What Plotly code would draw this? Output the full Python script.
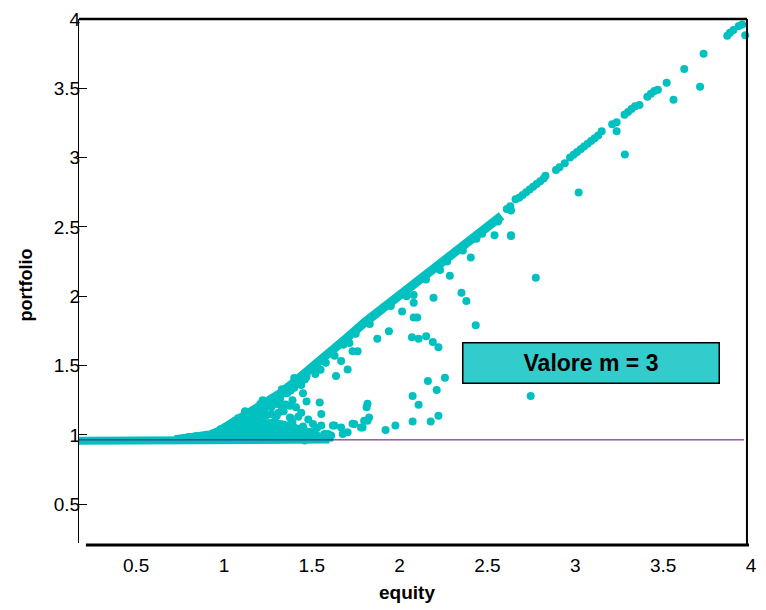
import plotly.graph_objects as go

# ---- data ----
floor_x = [0.155, 0.45, 0.75, 0.95, 1.20, 1.45, 1.60]
floor_y = [0.958, 0.958, 0.960, 0.962, 0.962, 0.964, 0.966]

env_x = [0.72, 0.80, 0.86, 0.92, 0.97, 1.03, 1.085, 1.13, 1.18, 1.24, 1.31, 1.40,
         1.50, 1.60, 1.70, 1.80, 1.90, 2.00, 2.10, 2.20, 2.30, 2.40, 2.50, 2.58]
env_y = [0.965, 0.975, 0.99, 1.00, 1.025, 1.07, 1.12, 1.15, 1.195, 1.24, 1.29, 1.38,
         1.48, 1.59, 1.70, 1.81, 1.91, 2.01, 2.11, 2.21, 2.31, 2.40, 2.50, 2.58]

# dense mass under the curve (outline)
mass_x = [0.88, 0.95, 1.02, 1.10, 1.18, 1.26, 1.34, 1.42, 1.50, 1.57, 1.62, 1.62, 0.88]
mass_y = [0.965, 0.995, 1.04, 1.08, 1.10, 1.11, 1.10, 1.07, 1.04, 1.00, 0.97, 0.955, 0.955]

diag_x = [2.61, 2.63, 2.66, 2.68, 2.70, 2.72, 2.74, 2.76, 2.78, 2.80, 2.82, 2.83,
          2.89, 2.91, 2.94, 2.97, 2.99, 3.01, 3.03, 3.05, 3.07, 3.09, 3.11, 3.13,
          3.15, 3.21, 3.235, 3.28, 3.30, 3.32, 3.34, 3.365, 3.41, 3.43, 3.45, 3.47,
          3.52, 3.62, 3.73, 3.865, 3.88, 3.90, 3.93, 3.95]
diag_y = [2.63, 2.65, 2.70, 2.71, 2.73, 2.75, 2.77, 2.79, 2.81, 2.83, 2.85, 2.87,
          2.91, 2.93, 2.96, 3.00, 3.02, 3.04, 3.06, 3.08, 3.10, 3.12, 3.14, 3.16,
          3.19, 3.24, 3.255, 3.31, 3.33, 3.35, 3.37, 3.38, 3.44, 3.46, 3.48, 3.49,
          3.54, 3.64, 3.75, 3.88, 3.90, 3.92, 3.95, 3.96]

near_x = [1.05, 1.10, 1.16, 1.21, 1.26, 1.31, 1.35, 1.38, 1.44, 1.47, 1.53, 1.58, 1.63,
          1.68, 1.75, 1.83, 1.95, 2.04, 2.15, 2.27, 2.36, 2.47, 2.56, 1.12, 1.22, 1.33,
          1.40, 1.52, 0.98, 0.90, 0.84, 0.80]
near_y = [1.05, 1.09, 1.14, 1.17, 1.21, 1.25, 1.30, 1.32, 1.36, 1.43, 1.49, 1.52, 1.57,
          1.65, 1.73, 1.80, 1.93, 2.00, 2.12, 2.25, 2.33, 2.45, 2.54, 1.17, 1.25, 1.33,
          1.41, 1.51, 1.04, 1.00, 0.99, 0.985]

scatter_x = [2.54, 2.634, 2.437, 2.405, 2.286, 2.23, 2.775, 2.08, 2.08, 2.193, 2.352, 2.38,
             2.014, 2.08, 2.10, 2.433, 1.939, 1.873, 2.07, 2.108, 2.151, 2.189, 2.221, 2.258,
             2.161, 2.211, 2.074, 2.108, 2.221, 2.746, 1.817, 1.812, 2.074, 2.177, 1.976, 1.92,
             1.817, 1.78, 1.732, 1.667, 1.62, 1.704, 1.545, 1.554, 1.423, 1.376, 1.376, 1.30,
             1.31, 1.507, 1.554, 1.479, 1.592, 1.46, 1.638, 1.704, 1.469, 1.732, 1.761, 1.667,
             1.714, 1.29, 1.207, 1.197, 1.629, 1.676, 1.742, 1.798, 1.826, 1.789, 1.573, 1.61,
             3.019, 3.282, 3.235, 2.634, 3.559, 3.71, 3.967, 2.634]
scatter_y = [2.44, 2.44, 2.415, 2.279, 2.147, 2.19, 2.133, 2.009, 1.954, 1.99, 2.026, 1.966,
             1.89, 1.847, 1.847, 1.79, 1.747, 1.694, 1.704, 1.694, 1.711, 1.67, 1.632, 1.412,
             1.389, 1.324, 1.281, 1.217, 1.138, 1.281, 1.224, 1.20, 1.097, 1.097, 1.067, 1.036,
             1.102, 1.054, 1.08, 1.054, 1.067, 1.019, 1.233, 1.15, 1.131, 1.21, 1.126, 1.138,
             1.222, 1.079, 1.067, 1.019, 1.007, 0.96, 1.425, 1.472, 1.417, 1.603, 1.603, 1.532,
             1.663, 1.222, 1.222, 1.138, 1.067, 1.007, 1.079, 1.102, 1.126, 1.054, 1.007, 0.995,
             2.749, 3.023, 3.19, 2.434, 3.417, 3.512, 3.882, 2.618]

cloud_x = [0.93, 0.98, 1.00, 1.03, 1.05, 1.07, 1.09, 1.10, 1.12, 1.14, 1.15, 1.17, 1.19,
           1.20, 1.22, 1.23, 1.25, 1.26, 1.27, 1.29, 1.30, 1.32, 1.33, 1.34, 1.36, 1.37,
           1.39, 1.40, 1.42, 1.43, 1.45, 1.46, 1.48, 1.50, 1.52, 1.53, 1.55, 1.57,
           1.08, 1.13, 1.18, 1.24, 1.28, 1.35, 1.41, 1.47, 1.06, 1.16, 1.21, 1.31, 1.38, 1.44,
           1.20, 1.27, 1.33, 1.39, 1.11, 1.45]
cloud_y = [1.00, 1.01, 1.04, 0.99, 1.07, 1.02, 1.09, 1.00, 1.05, 1.11, 1.01, 1.07, 1.16,
           1.03, 1.10, 1.18, 1.00, 1.06, 1.20, 1.10, 1.02, 1.26, 1.06, 1.17, 1.30, 1.03,
           1.09, 1.34, 1.01, 1.37, 1.06, 1.40, 1.11, 1.02, 1.44, 1.05, 1.47, 1.00,
           1.12, 1.08, 1.12, 1.14, 1.08, 1.22, 1.20, 1.24, 1.10, 1.16, 1.06, 1.16, 1.12, 1.16,
           1.14, 1.15, 1.20, 1.25, 1.12, 1.30]

ref_line_x = [0.155, 3.96]
ref_line_y = [0.964, 0.964]

x_ticks = [0.5, 1, 1.5, 2, 2.5, 3, 3.5, 4]
y_ticks = [0.5, 1, 1.5, 2, 2.5, 3, 3.5, 4]
label_box = "Valore m = 3"

TEAL = "#00c0c0"
fig = go.Figure()
fig.add_trace(go.Scatter(x=mass_x, y=mass_y, mode="lines", fill="toself",
                         fillcolor=TEAL, line=dict(color=TEAL, width=1), hoverinfo="skip"))
fig.add_trace(go.Scatter(x=floor_x, y=floor_y, mode="lines",
                         line=dict(color=TEAL, width=8), hoverinfo="skip"))
fig.add_trace(go.Scatter(x=env_x, y=env_y, mode="lines",
                         line=dict(color=TEAL, width=9), hoverinfo="skip"))
for xs, ys in [(cloud_x, cloud_y), (near_x, near_y), (scatter_x, scatter_y), (diag_x, diag_y)]:
    fig.add_trace(go.Scatter(x=xs, y=ys, mode="markers",
                             marker=dict(color=TEAL, size=8, line=dict(width=0))))
fig.add_trace(go.Scatter(x=ref_line_x, y=ref_line_y, mode="lines",
                         line=dict(color="#5e0a70", width=1)))

tickfont = dict(family="Liberation Sans, Arial, sans-serif", size=19, color="black")
fig.update_layout(
    width=766, height=610,
    margin=dict(l=79, r=9, t=15, b=67),
    paper_bgcolor="white", plot_bgcolor="white",
    showlegend=False,
    xaxis=dict(range=[0.175, 4.0], tickvals=x_ticks, ticktext=[f"{v:g}" for v in x_ticks],
               showgrid=False, zeroline=False, showline=False, ticks="",
               ticklabelstandoff=9, tickfont=tickfont),
    yaxis=dict(range=[0.22, 4.0], tickvals=y_ticks, ticktext=[f"{v:g}" for v in y_ticks],
               showgrid=False, zeroline=False, showline=True, linecolor="black", linewidth=1,
               ticks="inside", ticklen=8, tickcolor="black", tickwidth=1,
               ticklabelstandoff=-6, tickfont=tickfont),
    shapes=[
        dict(type="line", xref="paper", yref="paper", x0=0, x1=0.994, y0=1, y1=1,
             line=dict(color="black", width=2.5)),
        dict(type="line", xref="paper", yref="paper", x0=0.994, x1=0.994, y0=1, y1=-0.004,
             line=dict(color="black", width=2)),
        dict(type="line", xref="paper", yref="paper", x0=0.0103, x1=0.997, y0=-0.004, y1=-0.004,
             line=dict(color="black", width=3)),
    ],
    annotations=[
        dict(text="<b>" + label_box + "</b>", xref="paper", yref="paper", x=0.7615, y=0.3438,
             xanchor="center", yanchor="middle", showarrow=False,
             width=255, height=39, bgcolor="#33cccc", bordercolor="black", borderwidth=1.5,
             borderpad=0, align="center",
             font=dict(family="Liberation Sans, Arial, sans-serif", size=23, color="black")),
        dict(text="<b>equity</b>", xref="paper", yref="paper", x=(410 - 79) / 678,
             y=(543 - 593) / 528, xanchor="center", yanchor="middle", showarrow=False,
             font=dict(family="Liberation Sans, Arial, sans-serif", size=19, color="black")),
        dict(text="<b>portfolio</b>", xref="paper", yref="paper", x=(25 - 79) / 678,
             y=(543 - 283) / 528, xanchor="center", yanchor="middle", showarrow=False,
             textangle=-90,
             font=dict(family="Liberation Sans, Arial, sans-serif", size=18, color="black")),
    ],
)

fig.write_html("out.html")
